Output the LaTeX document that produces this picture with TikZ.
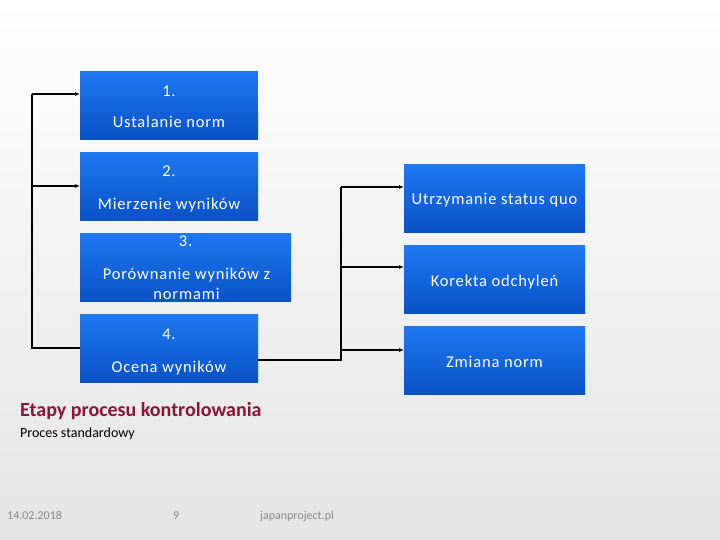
\documentclass[tikz,border=0pt]{standalone}
\usepackage{fontspec}
\setmainfont{Carlito}
\newfontfamily\boxfont[LetterSpace=5]{Carlito}
\usetikzlibrary{arrows.meta}
\definecolor{btop}{HTML}{1E78F2}
\definecolor{bbot}{HTML}{0A52C6}
\definecolor{titlered}{HTML}{8A1538}
\definecolor{bgbot}{HTML}{E4E4E4}
\definecolor{footgray}{HTML}{8A8A8A}
\tikzset{
  bluebox/.style={rectangle, anchor=north west, inner sep=0pt,
    top color=btop, bottom color=bbot, minimum height=68pt},
  boxtext/.style={anchor=base, inner sep=0pt, text=white,
    font=\boxfont\fontsize{16.5}{19}\selectfont},
  foot/.style={anchor=base west, inner sep=0pt, text=footgray,
    font=\fontsize{12}{14}\selectfont},
  conn/.style={line width=1.1pt, black},
  arr/.style={conn, -{Latex[length=5pt,width=4pt]}},
}
\begin{document}
\begin{tikzpicture}[x=1pt,y=-1pt]
\useasboundingbox (0,0) rectangle (720,540);
\shade[top color=white, bottom color=bgbot] (0,0) rectangle (720,540);

\node[bluebox, minimum width=178pt] (b1) at (80,71) {};
\node[bluebox, minimum width=178pt] (b2) at (80,152) {};
\node[bluebox, minimum width=211pt] (b3) at (80,233) {};
\node[bluebox, minimum width=178pt] (b4) at (80,314) {};
\node[bluebox, minimum width=181pt] (r1) at (404,164) {};
\node[bluebox, minimum width=181pt] (r2) at (404,245) {};
\node[bluebox, minimum width=181pt] (r3) at (404,326) {};

\node[boxtext] (n1) at (169,97) {1.};
\node[boxtext] (t1) at (169,128) {Ustalanie norm};
\node[boxtext] (n2) at (169,177) {2.};
\node[boxtext] (t2) at (169,210) {Mierzenie wyników};
\node[boxtext] (n3) at (185.5,246) {3.};
\node[boxtext] (t3a) at (186.5,279) {Porównanie wyników z};
\node[boxtext] (t3b) at (186.5,299) {normami};
\node[boxtext] (n4) at (169,339) {4.};
\node[boxtext] (t4) at (169,372) {Ocena wyników};
\node[boxtext] (tr1) at (494.5,205) {Utrzymanie status quo};
\node[boxtext] (tr2) at (494.5,286) {Korekta odchyleń};
\node[boxtext] (tr3) at (494.5,367) {Zmiana norm};

\draw[white, line width=1pt] (b1.north east) -- ([yshift=-40pt]b1.north east);

\coordinate (L1) at (32,94);
\coordinate (L2) at (32,186);
\coordinate (L3) at (32,348);
\draw[arr] (L1) -- (L1 -| b1.west);
\draw[arr] (L2) -- (L2 -| b2.west);
\draw[conn] (L1) -- (L3) -- (L3 -| b4.west);

\coordinate (R0) at (341,360);
\coordinate (R1) at (341,187);
\coordinate (R2) at (341,267);
\coordinate (R3) at (341,350);
\draw[conn] (R0 -| b4.east) -- (R0) -- (R1);
\draw[arr] (R1) -- (R1 -| r1.west);
\draw[arr] (R2) -- (R2 -| r2.west);
\draw[arr] (R3) -- (R3 -| r3.west);

\node[anchor=base west, inner sep=0pt, text=titlered, font=\fontsize{20}{22}\selectfont\bfseries] (title) at (20,416) {Etapy procesu kontrolowania};
\node[anchor=base west, inner sep=0pt, font=\fontsize{14}{16}\selectfont] (sub) at (20,437) {Proces standardowy};

\node[foot] (date) at (7,519) {14.02.2018};
\node[foot] (page) at (173,519) {9};
\node[foot] (site) at (260,519) {japanproject.pl};
\end{tikzpicture}
\end{document}
